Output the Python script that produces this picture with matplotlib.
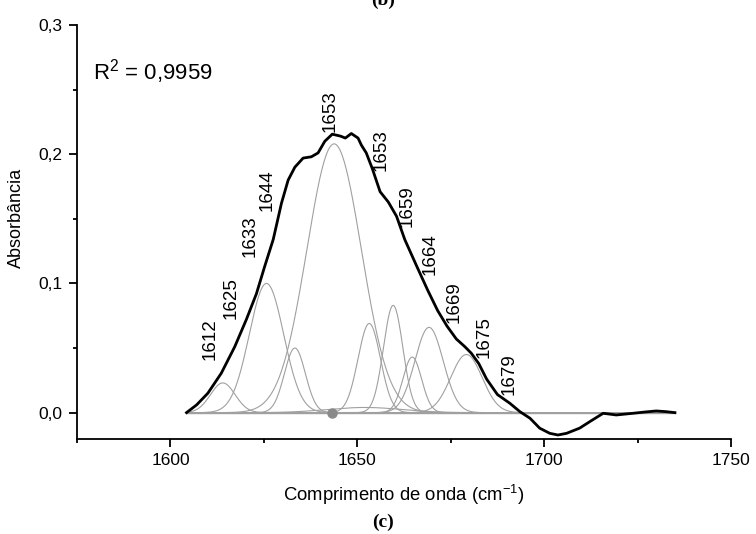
import numpy as np
import matplotlib
matplotlib.use('Agg')
import matplotlib.pyplot as plt
from matplotlib.ticker import MultipleLocator, FuncFormatter

plt.rcParams['font.family'] = ['Liberation Sans', 'DejaVu Sans']
plt.rcParams['mathtext.fontset'] = 'custom'
plt.rcParams['mathtext.rm'] = 'Liberation Sans'
plt.rcParams['mathtext.it'] = 'Liberation Sans:italic'

# measured spectrum (black curve)
wavenumber = [1604.3, 1607.0, 1610.0, 1613.6, 1617.2, 1620.3, 1623.0, 1625.2,
              1627.5, 1629.7, 1631.5, 1633.3, 1635.5, 1637.7, 1639.5, 1641.3,
              1643.3, 1645.5, 1646.8, 1648.4, 1650.2, 1651.1, 1652.4, 1654.0,
              1656.1, 1658.3, 1660.5, 1662.7, 1665.8, 1668.8, 1671.5, 1674.0,
              1676.5, 1678.8, 1680.5, 1682.5, 1684.6, 1687.5, 1690.8, 1693.5,
              1696.2, 1698.8, 1701.5, 1703.7, 1706.0, 1709.5, 1712.2, 1715.8,
              1719.3, 1723.8, 1727.0, 1730.0, 1732.5, 1735.0]
absorbance = [0.0, 0.006, 0.015, 0.0305, 0.051, 0.072, 0.092, 0.113,
              0.134, 0.162, 0.180, 0.190, 0.197, 0.198, 0.201, 0.210,
              0.2155, 0.214, 0.2125, 0.216, 0.2125, 0.207, 0.201, 0.189,
              0.171, 0.163, 0.152, 0.134, 0.114, 0.095, 0.079, 0.067,
              0.057, 0.051, 0.046, 0.038, 0.026, 0.014, 0.0073, 0.0008,
              -0.0043, -0.012, -0.016, -0.0173, -0.016, -0.012, -0.007, -0.0005,
              -0.0018, -0.0005, 0.0005, 0.0013, 0.0008, 0.0]

# fitted gaussian components
centers = [1614.0, 1625.7, 1633.3, 1643.8, 1652.0, 1653.2, 1659.6, 1664.7, 1669.2, 1679.2]
heights = [0.023, 0.100, 0.050, 0.208, 0.004, 0.069, 0.083, 0.043, 0.066, 0.045]
sigmas = [3.3, 4.6, 2.8, 7.3, 10.0, 3.0, 2.6, 2.5, 3.8, 4.2]

# peak labels and where they sit
peak_labels = ['1612', '1625', '1633', '1644', '1653', '1653', '1659', '1664', '1669', '1675', '1679']
label_x = [1610.5, 1616.3, 1621.2, 1625.8, 1642.8, 1656.5, 1663.3, 1669.4, 1675.8, 1683.9, 1690.6]
label_y = [0.0408, 0.0728, 0.1207, 0.1563, 0.2175, 0.187, 0.144, 0.1066, 0.0692, 0.0421, 0.0139]

marker_x = [1643.2]
marker_y = [0.0]

fig = plt.figure(figsize=(7.56, 5.34), dpi=100)
ax = fig.add_axes([0.1019, 0.1779, 0.865, 0.7753])

grid = np.linspace(1604.3, 1735.0, 800)
ax.plot([1604.3, 1735.0], [0, 0], color='#a0a0a0', lw=1.0, zorder=1)
for c, h, s in zip(centers, heights, sigmas):
    ax.plot(grid, h * np.exp(-0.5 * ((grid - c) / s) ** 2), color='#a0a0a0', lw=0.8, zorder=2)
ax.plot(wavenumber, absorbance, color='black', lw=2.0, zorder=3)
ax.plot(marker_x, marker_y, 'o', color='#8a8a8a', ms=6.5, zorder=4)

for t, x, y in zip(peak_labels, label_x, label_y):
    ax.text(x, y, t, rotation=90, ha='center', va='bottom', fontsize=13.5)

ax.text(1579.2, 0.2575, 'R$^2$ = 0,9959', fontsize=16, va='baseline', ha='left')

ax.set_xlim(1575, 1750)
ax.set_ylim(-0.0204, 0.3)
ax.xaxis.set_major_locator(MultipleLocator(50))
ax.xaxis.set_minor_locator(MultipleLocator(25))
ax.yaxis.set_major_locator(MultipleLocator(0.1))
ax.yaxis.set_minor_locator(MultipleLocator(0.05))
ax.yaxis.set_major_formatter(FuncFormatter(lambda v, p: '{:.1f}'.format(v).replace('.', ',')))

for side in ('top', 'right'):
    ax.spines[side].set_visible(False)
for side in ('left', 'bottom'):
    ax.spines[side].set_linewidth(1.3)
ax.tick_params(which='major', direction='out', length=5.8, width=1.3, labelsize=12.5, pad=4.5)
ax.tick_params(which='minor', direction='out', length=3, width=1.3)

ax.set_xlabel('Comprimento de onda (cm$^{-1}$)', fontsize=13.3)
ax.set_ylabel('Absorbância', fontsize=13)
ax.xaxis.set_label_coords(0.5, -0.105)
ax.yaxis.set_label_coords(-0.079, 0.535)

# figure captions, the upper one belongs to the previous panel and is cut by the edge
fig.text(383 / 756, 1 - 9 / 534, '(b)', ha='center', va='bottom',
         family='Liberation Serif', weight='bold', fontsize=14)
fig.text(383 / 756, 1 - 522 / 534, '(c)', ha='center', va='center',
         family='Liberation Serif', weight='bold', fontsize=14)

fig.savefig('out.png', dpi=100)
